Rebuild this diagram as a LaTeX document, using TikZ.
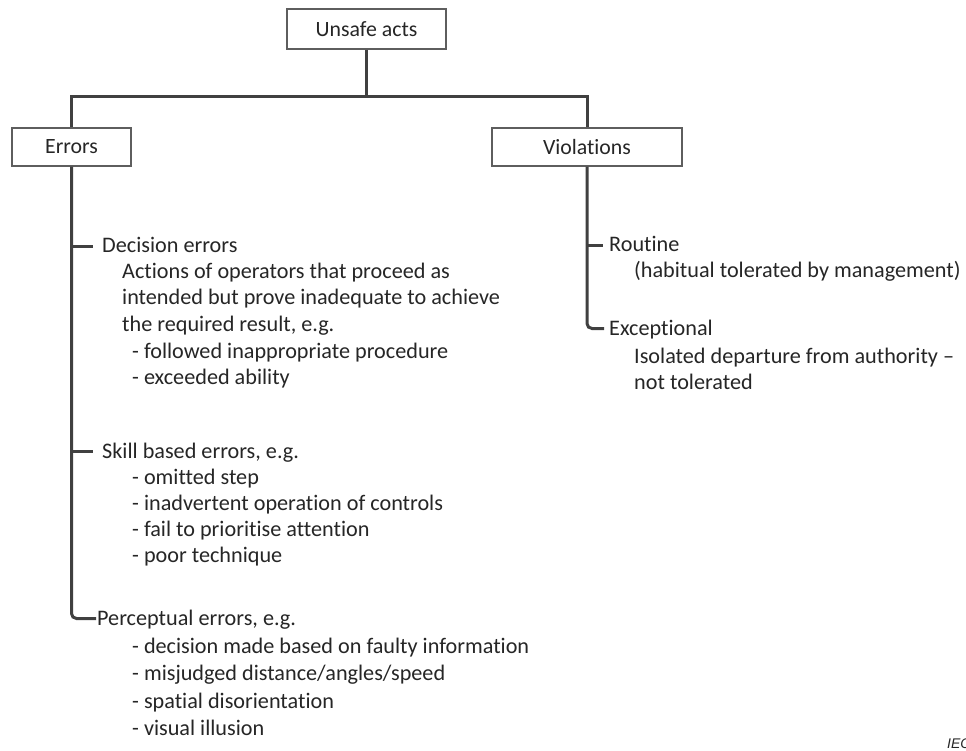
\documentclass[tikz,border=0pt]{standalone}
\usepackage{fontspec}
\setmainfont[Ligatures=NoCommon]{Carlito}
\newfontfamily\iecfont{Liberation Sans}
\begin{document}
\begin{tikzpicture}[x=1pt,y=-1pt,
  box/.style={draw=boxgray,line width=1.1pt,fill=white,inner sep=0pt,text=inkgray,font=\fontsize{21.8}{26}\selectfont},
  conn/.style={draw=linegray,line width=3pt},
  txt/.style={anchor=base west,inner sep=0pt,text=inkgray,font=\fontsize{22.2}{26}\selectfont}]
\definecolor{boxgray}{HTML}{5E5E5E}
\definecolor{linegray}{HTML}{404040}
\definecolor{inkgray}{HTML}{262626}
\useasboundingbox[fill=white] (0,0) rectangle (966,751);

% top-level boxes
\node[box,minimum width=159pt,minimum height=40pt] (ua)  at (366.5,29) {Unsafe acts};
\node[box,minimum width=119pt,minimum height=38pt] (err) at (71.5,147) {Errors};
\node[box,minimum width=190pt,minimum height=38pt] (vio) at (587,147)  {Violations};

% bus between the top box and the two branches
\coordinate (bus) at (366.5,97);
\draw[conn] (ua.south) -- (bus);
\draw[conn] (err.north) |- (bus) -| (vio.north);

% error branches
\node[txt] (dec)  at (102,253) {Decision errors};
\node[txt] (decb) at (122,279) {Actions of operators that proceed as};
\node[txt] (decc) at (122,305) {intended but prove inadequate to achieve};
\node[txt] (decd) at (122,331) {the required result, e.g.};
\node[txt] (dece) at (132,358) {- followed inappropriate procedure};
\node[txt] (decf) at (132,384) {- exceeded ability};

\node[txt] (skl)  at (102,458) {Skill based errors, e.g.};
\node[txt] (sklb) at (132,484) {- omitted step};
\node[txt] (sklc) at (132,510) {- inadvertent operation of controls};
\node[txt] (skld) at (132,536) {- fail to prioritise attention};
\node[txt] (skle) at (132,562) {- poor technique};

\node[txt] (per)  at (97,625) {Perceptual errors, e.g.};
\node[txt] (perb) at (132,653) {- decision made based on faulty information};
\node[txt] (perc) at (132,680) {- misjudged distance/angles/speed};
\node[txt] (perd) at (132,708) {- spatial disorientation};
\node[txt] (pere) at (132,735) {- visual illusion};

\coordinate (decT) at ([xshift=-9pt,yshift=6.5pt]dec.base west);
\coordinate (sklT) at ([xshift=-9pt,yshift=6.5pt]skl.base west);
\coordinate (perT) at ([xshift=-1pt,yshift=6.5pt]per.base west);
\draw[conn,rounded corners=5pt] (err.south) |- (perT);
\draw[conn] (err.south |- decT) -- (decT);
\draw[conn] (err.south |- sklT) -- (sklT);

% violation branches
\node[txt] (rou)  at (609,252) {Routine};
\node[txt] (roub) at (634,277) {(habitual tolerated by management)};
\node[txt] (exc)  at (609,335) {Exceptional};
\node[txt] (excb) at (634,363) {Isolated departure from authority –};
\node[txt] (excc) at (634,389) {not tolerated};

\coordinate (rouT) at ([xshift=-6pt,yshift=6.5pt]rou.base west);
\coordinate (excT) at ([xshift=-5pt,yshift=6.5pt]exc.base west);
\draw[conn,rounded corners=5pt] (vio.south) |- (excT);
\draw[conn] (vio.south |- rouT) -- (rouT);

% source tag, running off the right edge
\node[anchor=base west,inner sep=0pt,text=inkgray,font=\iecfont\itshape\fontsize{14}{16}\selectfont] (iec) at (947,748) {IEC};
\end{tikzpicture}
\end{document}
